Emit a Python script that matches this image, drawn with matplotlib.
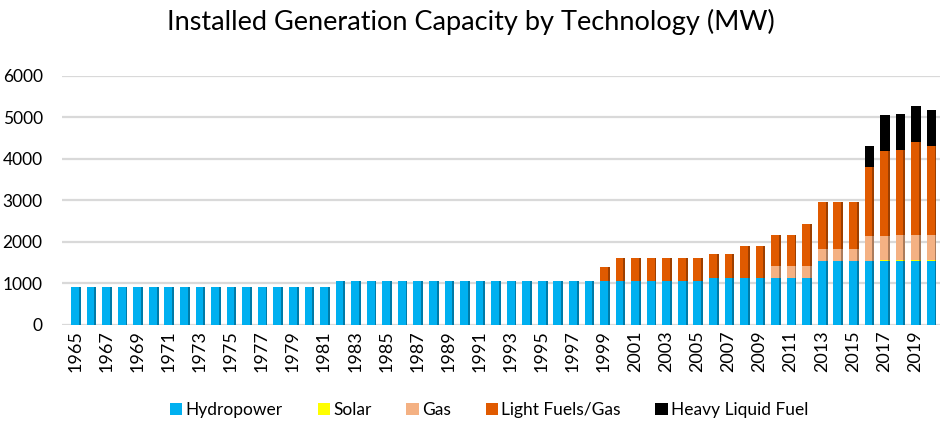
import matplotlib
matplotlib.use("Agg")
import matplotlib.pyplot as plt
import numpy as np

plt.rcParams["font.family"] = ["Lato", "DejaVu Sans"]

# data (MW)
years = list(range(1965, 2021))
hydro = [900] * 17 + [1050] * 24 + [1120] * 7 + [1540] * 8
solar = [0] * 51 + [10, 15, 30, 30, 30]
gas = [0] * 45 + [290, 290, 290, 280, 280, 280, 590, 590, 590, 590, 590]
light_fuels = ([0] * 34
               + [350, 550, 550, 550, 550, 550, 550, 580, 580, 780, 780,
                  760, 760, 1010, 1130, 1130, 1130, 1670, 2050, 2050, 2240, 2150])
heavy_fuel = [0] * 51 + [500, 860, 870, 860, 870]

series = [("Hydropower", hydro, "#00B0F0"),
          ("Solar", solar, "#FFFF00"),
          ("Gas", gas, "#F4B183"),
          ("Light Fuels/Gas", light_fuels, "#E05A00"),
          ("Heavy Liquid Fuel", heavy_fuel, "#000000")]

fig = plt.figure(figsize=(9.41, 4.23), dpi=100)
ax = fig.add_axes([0.066, 0.232, 0.933, 0.589])

x = np.arange(len(years))
width = 0.5
bottom = np.zeros(len(years))
for name, vals, color in series:
    vals = np.array(vals, dtype=float)
    ax.bar(x, vals, width, bottom=bottom, color=color, label=name, zorder=3)
    # darker side face for the 3d look
    side = tuple(c * 0.7 for c in matplotlib.colors.to_rgb(color))
    ax.bar(x + width / 2 + 0.06, vals, 0.12, bottom=bottom, color=side, zorder=3)
    bottom += vals

ax.set_xlim(-0.83, len(years) - 0.4)
ax.set_ylim(0, 6000)
ax.set_yticks(range(0, 6001, 1000))
ax.set_xticks(x[::2])
ax.set_xticklabels([str(y) for y in years[::2]], rotation=90, fontsize=13)
ax.tick_params(axis="y", labelsize=12.5, length=0, pad=14)
ax.tick_params(axis="x", length=0, pad=4)
ax.grid(axis="y", color="#d9d9d9", linewidth=1.6, zorder=0)
for s in ax.spines.values():
    s.set_visible(False)

fig.suptitle("Installed Generation Capacity by Technology (MW)", fontsize=19.5, y=0.98)

handles, labels = ax.get_legend_handles_labels()
fig.legend(handles[:5], labels[:5], loc="center", bbox_to_anchor=(0.52, 0.03),
           ncol=5, frameon=False, fontsize=12.5, handlelength=0.7, handleheight=0.7,
           handletextpad=0.2, columnspacing=2.0)

fig.savefig("out.png", dpi=100)
